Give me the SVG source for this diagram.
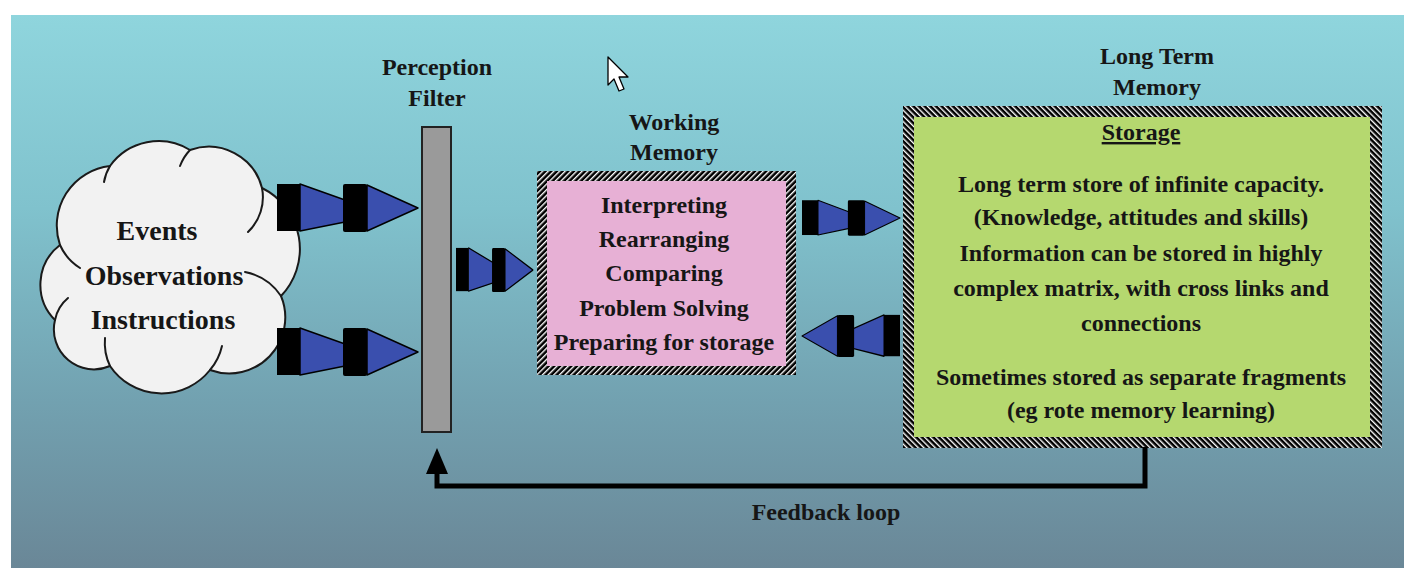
<svg xmlns="http://www.w3.org/2000/svg" width="1404" height="568" viewBox="0 0 1404 568">
<style>
.t{font-family:"Liberation Serif","Times New Roman",serif;font-weight:bold;fill:#161616;text-anchor:middle}
.s24{font-size:24px}
.s28{font-size:28px}
.blue{fill:#3a4fae;stroke:#000;stroke-width:1.5;stroke-linejoin:round}
.blk{fill:#000}
.cl{fill:#f2f2f2;stroke:#1a1a1a;stroke-width:2;stroke-linejoin:round}
.ci{fill:none;stroke:#1a1a1a;stroke-width:2;stroke-linecap:round}
.fb{fill:none;stroke:#000;stroke-width:5}
</style>
<defs>
<linearGradient id="bg" x1="0" y1="0" x2="0" y2="1">
<stop offset="0" stop-color="#8fd5dd"/>
<stop offset="0.35" stop-color="#80c2cd"/>
<stop offset="0.7" stop-color="#72a1b0"/>
<stop offset="1" stop-color="#6a8797"/>
</linearGradient>
<pattern id="hatchA" patternUnits="userSpaceOnUse" width="4" height="4" patternTransform="rotate(45)">
<rect width="4" height="4" fill="#000"/>
<rect x="0" y="0" width="1.4" height="4" fill="#fff"/>
</pattern>
<pattern id="hatchB" patternUnits="userSpaceOnUse" width="4" height="4" patternTransform="rotate(-45)">
<rect width="4" height="4" fill="#000"/>
<rect x="0" y="0" width="1.4" height="4" fill="#fff"/>
</pattern>
<g id="arrow">
<rect class="blk" x="0" y="-24" width="23" height="47"/>
<polygon class="blue" points="23,-24 68,-8 68,14 23,23"/>
<rect class="blk" x="66" y="-24" width="24" height="48" rx="2"/>
<polygon class="blue" points="90,-23 141,0 90,23"/>
</g>
</defs>

<rect x="11" y="15" width="1393" height="553" fill="url(#bg)"/>

<g id="cloud">
<path class="cl" d="M60,245 A60,60 0 0 1 110,166 A60,60 0 0 1 190,150 A55,55 0 0 1 262,188 A68,68 0 0 1 281,296 A56,56 0 0 1 210,370 A62,62 0 0 1 110,366 A40,40 0 0 1 55,320 A50,50 0 0 1 60,245 Z"/>
<path class="ci" d="M60,245 A52,52 0 0 0 80,268"/>
<path class="ci" d="M110,166 A45,45 0 0 0 104,182"/>
<path class="ci" d="M190,150 A48,48 0 0 0 180,166"/>
<path class="ci" d="M262,188 A48,48 0 0 1 248,232"/>
<path class="ci" d="M281,296 A56,56 0 0 0 245,272"/>
<path class="ci" d="M210,370 A56,56 0 0 0 222,346"/>
<path class="ci" d="M110,366 A54,54 0 0 1 105,338"/>
<path class="ci" d="M55,320 A38,38 0 0 1 68,298"/>
<text class="t s28" x="157" y="240">Events</text>
<text class="t s28" x="164" y="285">Observations</text>
<text class="t s28" x="163" y="329">Instructions</text>
</g>

<g id="perception-filter">
<rect x="422" y="127" width="29" height="305" fill="#9a9a9a" stroke="#222" stroke-width="2"/>
<text class="t s24" x="437" y="75">Perception</text>
<text class="t s24" x="437" y="106">Filter</text>
</g>

<g id="working-memory">
<rect x="537" y="171" width="259" height="204" fill="url(#hatchA)"/>
<rect x="547" y="181" width="239" height="185" fill="#e7b0d5"/>
<text class="t s24" x="674" y="130">Working</text>
<text class="t s24" x="674" y="160">Memory</text>
<text class="t s24" x="664" y="213">Interpreting</text>
<text class="t s24" x="664" y="247">Rearranging</text>
<text class="t s24" x="664" y="281">Comparing</text>
<text class="t s24" x="664" y="316">Problem Solving</text>
<text class="t s24" x="664" y="350">Preparing for storage</text>
</g>

<g id="long-term-memory">
<rect x="903" y="106" width="479" height="342" fill="url(#hatchB)"/>
<rect x="914" y="117" width="456" height="320" fill="#b5d86f"/>
<text class="t s24" x="1157" y="64">Long Term</text>
<text class="t s24" x="1157" y="95">Memory</text>
<text class="t s24" x="1141" y="140" text-decoration="underline">Storage</text>
<text class="t s24" x="1141" y="192">Long term store of infinite capacity.</text>
<text class="t s24" x="1141" y="225">(Knowledge, attitudes and skills)</text>
<text class="t s24" x="1141" y="261">Information can be stored in highly</text>
<text class="t s24" x="1141" y="296">complex matrix, with cross links and</text>
<text class="t s24" x="1141" y="331">connections</text>
<text class="t s24" x="1141" y="385">Sometimes stored as separate fragments</text>
<text class="t s24" x="1141" y="418">(eg rote memory learning)</text>
</g>

<g id="connectors">
<use href="#arrow" transform="translate(277,208)"/>
<use href="#arrow" transform="translate(277,352)"/>
<use href="#arrow" transform="translate(456,270) scale(0.546,0.92)"/>
<use href="#arrow" transform="translate(802,218) scale(0.695,0.74)"/>
<use href="#arrow" transform="translate(900,336) scale(-0.695,0.88)"/>
<path class="fb" d="M1145,447 V486 H437 V470"/>
<polygon points="426,474 437,448 448,474" fill="#000"/>
<text class="t s24" x="826" y="520">Feedback loop</text>
</g>

<g id="cursor">
<path d="M608,57 L608,85 L614,79 L619,91 L624,89 L619,77 L628,77 Z" fill="#fff" stroke="#000" stroke-width="1.3" stroke-linejoin="round"/>
</g>
</svg>
